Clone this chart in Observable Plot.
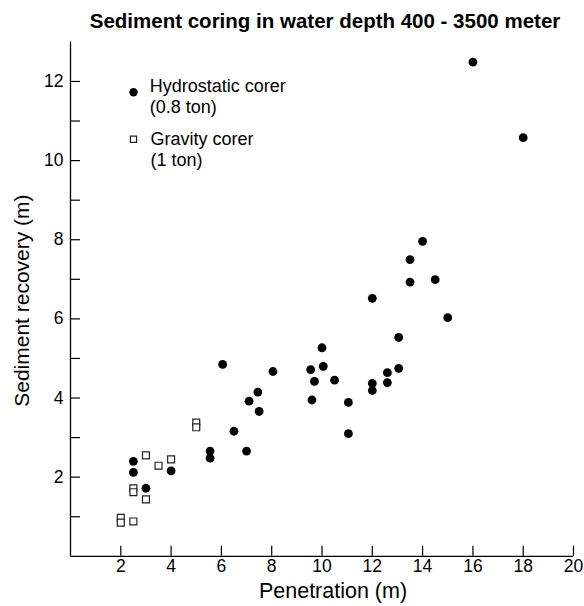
<!DOCTYPE html>
<html>
<head>
<meta charset="utf-8">
<script src="https://cdn.jsdelivr.net/npm/d3@7"></script>
<script src="https://cdn.jsdelivr.net/npm/@observablehq/plot@0.6"></script>
<style>
  html, body { margin: 0; padding: 0; background: #fff; }
  #chart svg { display: block; }
</style>
</head>
<body>
<div id="chart"></div>
<script>
// ---- data ----
const title = "Sediment coring in water depth 400 - 3500 meter";
const xLabel = "Penetration (m)";
const yLabel = "Sediment recovery (m)";

const hydroLabel = "Hydrostatic corer\n(0.8 ton)";
const gravityLabel = "Gravity corer\n(1 ton)";

// Hydrostatic corer (0.8 ton) — filled circles
const hydroX = [2.5, 2.5, 3.0, 4.0, 5.55, 5.55, 6.5, 7.0, 7.1, 7.5, 7.45, 6.05, 8.05, 9.55, 10.05, 9.7, 10.5, 9.6, 10.0, 11.05, 11.05, 12.0, 12.0, 12.0, 12.6, 12.6, 13.05, 13.05, 13.5, 13.5, 14.0, 14.5, 15.0, 16.0, 18.0];
const hydroY = [2.4, 2.12, 1.72, 2.16, 2.66, 2.48, 3.16, 2.66, 3.92, 3.66, 4.15, 4.85, 4.67, 4.72, 4.8, 4.42, 4.45, 3.95, 5.27, 3.89, 3.1, 6.52, 4.37, 4.19, 4.64, 4.39, 4.75, 5.53, 6.93, 7.5, 7.96, 6.99, 6.03, 12.49, 10.58];

// Gravity corer (1 ton) — open squares
const gravityX = [2.0, 2.0, 2.5, 2.5, 2.5, 3.0, 3.0, 3.5, 4.0, 5.0, 5.0];
const gravityY = [0.97, 0.85, 0.88, 1.72, 1.62, 1.44, 2.55, 2.29, 2.45, 3.38, 3.26];

const xTicks = [2, 4, 6, 8, 10, 12, 14, 16, 18, 20];
const yTicks = [1, 2, 3, 4, 5, 6, 7, 8, 9, 10, 11, 12];
const yTickLabels = [2, 4, 6, 8, 10, 12];

// ---- build ----
const W = 584, H = 606;
const mL = 70, mR = 11, mT = 41.4, mB = 50.2;
const frameW = W - mL - mR, frameH = H - mT - mB;
const font = "'Liberation Sans', Arial, Helvetica, sans-serif";

const hydro = hydroX.map((x, i) => ({x, y: hydroY[i]}));
const gravity = gravityX.map((x, i) => ({x, y: gravityY[i]}));

const chart = Plot.plot({
  width: W,
  height: H,
  marginLeft: mL,
  marginRight: mR,
  marginTop: mT,
  marginBottom: mB,
  style: {fontFamily: font, fontSize: "17px", color: "#000", background: "#fff"},
  x: {domain: [0, 20], label: null},
  y: {domain: [0, 13], label: null},
  marks: [
    Plot.ruleY([0], {stroke: "#000", strokeWidth: 1.3}),
    Plot.ruleX([0], {stroke: "#000", strokeWidth: 1.3}),
    Plot.tickX(xTicks, {x: d => d, insetTop: frameH - 10, stroke: "#000", strokeWidth: 1.2}),
    Plot.tickY(yTicks, {y: d => d, insetRight: frameW - 10, stroke: "#000", strokeWidth: 1.2}),
    Plot.axisX({ticks: xTicks, tickSize: 0, tickPadding: 3, label: null, fontSize: 17.5}),
    Plot.axisY({ticks: yTickLabels, tickSize: 0, tickPadding: 7, label: null, fontSize: 17.5}),
    Plot.dot(hydro, {x: "x", y: "y", r: 4.4, fill: "#000", stroke: null}),
    Plot.dot(gravity, {x: "x", y: "y", r: 3.9, symbol: "square", fill: "#fff", stroke: "#222", strokeWidth: 1.2}),
    // legend
    Plot.dot([hydroLabel], {frameAnchor: "top-left", dx: 63, dy: 50.3, r: 4.2, fill: "#000", stroke: null}),
    Plot.dot([gravityLabel], {frameAnchor: "top-left", dx: 63, dy: 97.3, r: 3.5, symbol: "square", fill: "#fff", stroke: "#222", strokeWidth: 1.2}),
    Plot.text([hydroLabel], {text: d => d, frameAnchor: "top-left", dx: 79.3, dy: 35.3, lineAnchor: "top", textAnchor: "start", fontSize: 18, lineHeight: 1.16, fill: "#000"}),
    Plot.text([gravityLabel], {text: d => d, frameAnchor: "top-left", dx: 80, dy: 88.6, lineAnchor: "top", textAnchor: "start", fontSize: 18, lineHeight: 1.16, fill: "#000"}),
    // titles
    Plot.text([title], {text: d => d, frameAnchor: "top", dx: 3, dy: -20, lineAnchor: "middle", textAnchor: "middle", fontSize: 20.5, fontWeight: "bold", fill: "#000"}),
    Plot.text([xLabel], {text: d => d, frameAnchor: "bottom", dx: 11, dy: 35, lineAnchor: "middle", textAnchor: "middle", fontSize: 21.5, fill: "#000"}),
    Plot.text([yLabel], {text: d => d, frameAnchor: "left", dx: -48, dy: 1.5, rotate: -90, lineAnchor: "middle", textAnchor: "middle", fontSize: 21, fill: "#000"})
  ]
});

document.getElementById("chart").appendChild(chart);
</script>
</body>
</html>
